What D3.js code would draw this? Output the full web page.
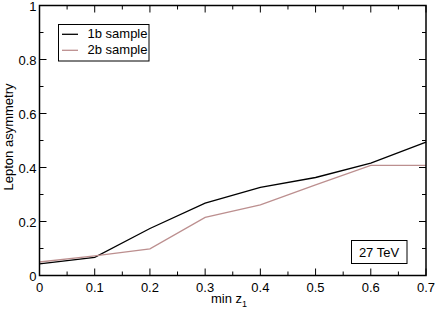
<!DOCTYPE html>
<html>
<head>
<meta charset="utf-8">
<script src="https://cdn.jsdelivr.net/npm/d3@7"></script>
<style>
  body { margin: 0; background: #fff; }
  svg { display: block; font-family: "Liberation Sans", Arial, sans-serif; }
</style>
</head>
<body>
<svg id="chart" width="436" height="310"></svg>
<script>
const zmin = [0, 0.1, 0.2, 0.3, 0.4, 0.5, 0.6, 0.7];
const sample1b = [0.043, 0.067, 0.174, 0.268, 0.326, 0.363, 0.416, 0.494];
const sample2b = [0.050, 0.073, 0.099, 0.215, 0.262, 0.336, 0.408, 0.408];
const xTicks = [0, 0.1, 0.2, 0.3, 0.4, 0.5, 0.6, 0.7];
const yTicks = [0, 0.2, 0.4, 0.6, 0.8, 1];
const seriesNames = ['1b sample', '2b sample'];
const colors = ['#000000', '#bc8f8f'];

const svg = d3.select('#chart');

const plotL = 39.5, plotR = 426, plotT = 5.5, plotB = 275.5;
const fs = 13;

const x = d3.scaleLinear().domain([0, 0.7]).range([plotL, plotR]);
const y = d3.scaleLinear().domain([0, 1]).range([plotB, plotT]);

const fmt = (d) => d === 0 ? '0' : d === 1 ? '1' : String(d);

// lines
const line = d3.line()
  .x((d, i) => x(zmin[i]))
  .y((d) => y(d));

[sample1b, sample2b].forEach((s, k) => {
  svg.append('path')
    .attr('d', line(s))
    .attr('fill', 'none')
    .attr('stroke', colors[k])
    .attr('stroke-width', 1.3);
});

// ticks, inward on all sides
const minorX = d3.range(0, 0.7001, 0.05);
const minorY = d3.range(0, 1.0001, 0.1);
const tickG = svg.append('g').attr('stroke', '#000').attr('stroke-width', 1);

minorX.forEach((v, i) => {
  const len = i % 2 === 0 ? 7 : 4;
  tickG.append('line').attr('x1', x(v)).attr('x2', x(v)).attr('y1', plotB).attr('y2', plotB - len);
  tickG.append('line').attr('x1', x(v)).attr('x2', x(v)).attr('y1', plotT).attr('y2', plotT + len);
});
minorY.forEach((v, i) => {
  const len = i % 2 === 0 ? 7 : 4;
  tickG.append('line').attr('x1', plotL).attr('x2', plotL + len).attr('y1', y(v)).attr('y2', y(v));
  tickG.append('line').attr('x1', plotR).attr('x2', plotR - len).attr('y1', y(v)).attr('y2', y(v));
});

// frame
svg.append('rect')
  .attr('x', plotL).attr('y', plotT)
  .attr('width', plotR - plotL).attr('height', plotB - plotT)
  .attr('fill', 'none').attr('stroke', '#000').attr('stroke-width', 1.5);

// tick labels
svg.append('g').selectAll('text')
  .data(xTicks).enter().append('text')
  .attr('x', (d) => x(d))
  .attr('y', plotB + 16)
  .attr('text-anchor', 'middle')
  .attr('font-size', fs)
  .text(fmt);

svg.append('g').selectAll('text')
  .data(yTicks).enter().append('text')
  .attr('x', plotL - 3)
  .attr('y', (d) => y(d) + 5)
  .attr('text-anchor', 'end')
  .attr('font-size', fs)
  .text(fmt);

// axis titles
svg.append('text')
  .attr('transform', 'translate(12.5, 137) rotate(-90)')
  .attr('text-anchor', 'middle')
  .attr('font-size', fs)
  .text('Lepton asymmetry');

const xl = svg.append('text')
  .attr('x', 229)
  .attr('y', 302.5)
  .attr('text-anchor', 'middle')
  .attr('font-size', fs);
xl.append('tspan').text('min z');
xl.append('tspan').attr('font-size', 9).attr('dy', 4).text('1');

// legend
svg.append('rect')
  .attr('x', 58.5).attr('y', 24.5).attr('width', 90.5).attr('height', 36.5)
  .attr('fill', '#fff').attr('stroke', '#000').attr('stroke-width', 1);

seriesNames.forEach((name, k) => {
  const ly = 34.3 + k * 16;
  svg.append('line')
    .attr('x1', 62).attr('x2', 78).attr('y1', ly).attr('y2', ly)
    .attr('stroke', colors[k]).attr('stroke-width', 1.3);
  svg.append('text')
    .attr('x', 87.5).attr('y', ly + 4)
    .attr('font-size', fs)
    .text(name);
});

// energy label
svg.append('rect')
  .attr('x', 351.5).attr('y', 240.5).attr('width', 55.5).attr('height', 23)
  .attr('fill', '#fff').attr('stroke', '#000').attr('stroke-width', 1);
svg.append('text')
  .attr('x', 379).attr('y', 256.5)
  .attr('text-anchor', 'middle')
  .attr('font-size', fs)
  .text('27 TeV');
</script>
</body>
</html>
